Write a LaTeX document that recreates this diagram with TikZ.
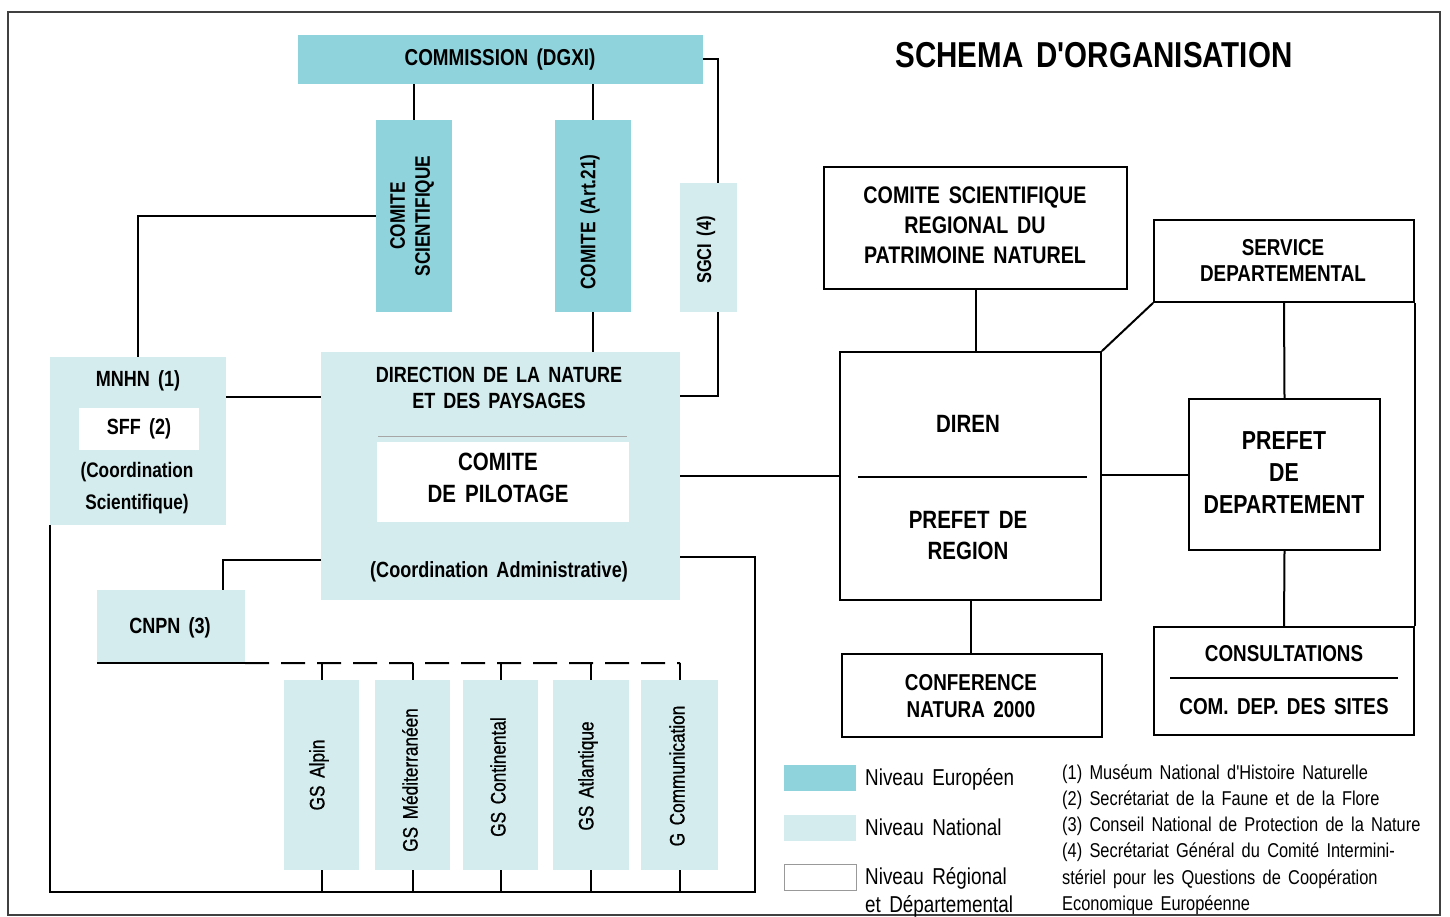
\documentclass[tikz,border=0pt]{standalone}
\usepackage{fontspec}
\setmainfont[FakeStretch=0.82,WordSpace=1.6,Ligatures=TeXOff]{Liberation Sans}
\usetikzlibrary{calc}
\definecolor{eu}{HTML}{8FD3DC}
\definecolor{nat}{HTML}{D4ECEE}
\definecolor{frm}{HTML}{404040}
\newcommand{\Fz}[2]{\fontsize{#1}{#2}\selectfont}
\tikzset{
  eubox/.style={fill=eu, draw=none, inner sep=0pt},
  natbox/.style={fill=nat, draw=none, inner sep=0pt},
  regbox/.style={fill=white, draw=black, line width=1.8pt, inner sep=0pt},
  wbox/.style={fill=white, draw=none, inner sep=0pt},
  link/.style={draw=black, line width=2pt},
  sepline/.style={draw=black, line width=1.6pt},
  lbl/.style={inner sep=0pt, align=center, font=\bfseries\Fz{23}{27}},
  vlbl/.style={inner sep=0pt, align=center, rotate=90, font=\bfseries\Fz{21}{25}},
  gslbl/.style={inner sep=0pt, align=center, rotate=90, font=\addfontfeature{FakeBold=0.8}\Fz{21}{25}},
  note/.style={inner sep=0pt, anchor=base west, font=\Fz{20}{24}},
  leg/.style={inner sep=0pt, anchor=base west, font=\Fz{23}{27}},
}
\begin{document}
\begin{tikzpicture}[x=1pt,y=-1pt]
\useasboundingbox (0,0) rectangle (1450,917);
\fill[white] (0,0) rectangle (1450,917);
\draw[frm, line width=1.4pt] (8,12) rectangle (1440,915);

% ---------- European / national level ----------
\node[eubox, minimum width=405pt, minimum height=49pt] (comm) at (500.5,59.5) {};
\node[lbl, font=\bfseries\Fz{23}{27}] (commT) at (500,60) {COMMISSION (DGXI)};

\node[eubox, minimum width=76pt, minimum height=192pt] (cs) at (414,216) {};
\node[vlbl] (csT) at (412,216) {COMITE\\SCIENTIFIQUE};

\node[eubox, minimum width=76pt, minimum height=192pt] (art) at (593,216) {};
\node[vlbl] (artT) at (590,222) {COMITE (Art.21)};

\node[natbox, minimum width=57pt, minimum height=129pt] (sgci) at (708.5,247.5) {};
\node[vlbl, font=\bfseries\Fz{20}{24}] (sgciT) at (706,250) {SGCI (4)};

\node[natbox, minimum width=176pt, minimum height=168pt] (mnhn) at (138,441) {};
\node[lbl, font=\bfseries\Fz{22}{26}] (mnhnT) at (138,381) {MNHN (1)};
\node[wbox, minimum width=120pt, minimum height=42pt] (sff) at (139,429) {};
\node[lbl, font=\bfseries\Fz{22}{26}] (sffT) at (139,429) {SFF (2)};
\node[lbl, font=\bfseries\Fz{21}{32}] (mnhnC) at (137,488) {(Coordination\\Scientifique)};

\node[natbox, minimum width=359pt, minimum height=248pt] (dnp) at (500.5,476) {};
\node[lbl, font=\bfseries\Fz{22}{26}] (dnpT) at (499,388) {DIRECTION DE LA NATURE\\ET DES PAYSAGES};
\draw[black!35, line width=1pt] (378,436) -- (627,436);
\node[wbox, minimum width=252pt, minimum height=80pt] (pil) at (503,482) {};
\node[lbl, font=\bfseries\Fz{25}{32}] (pilT) at (498,478) {COMITE\\DE PILOTAGE};
\node[lbl, font=\bfseries\Fz{22}{26}] (dnpC) at (499,572) {(Coordination Administrative)};

\node[natbox, minimum width=148pt, minimum height=73pt] (cnpn) at (171,626.5) {};
\node[lbl, font=\bfseries\Fz{22}{26}] (cnpnT) at (170,628) {CNPN (3)};

\node[natbox, minimum width=75pt, minimum height=190pt] (gs1) at (321.5,775) {};
\node[natbox, minimum width=75pt, minimum height=190pt] (gs2) at (412.5,775) {};
\node[natbox, minimum width=75pt, minimum height=190pt] (gs3) at (500.5,775) {};
\node[natbox, minimum width=76pt, minimum height=190pt] (gs4) at (591,775) {};
\node[natbox, minimum width=77pt, minimum height=190pt] (gs5) at (679.5,775) {};
\node[gslbl] (gs1T) at (319,775) {GS Alpin};
\node[gslbl] (gs2T) at (410,780) {GS Méditerranéen};
\node[gslbl] (gs3T) at (498,777) {GS Continental};
\node[gslbl] (gs4T) at (588,776) {GS Atlantique};
\node[gslbl] (gs5T) at (677,776) {G Communication};

% ---------- Regional level ----------
\node[lbl, font=\bfseries\Fz{36}{40}] (title) at (1094,55) {SCHEMA D'ORGANISATION};

\node[regbox, minimum width=303pt, minimum height=122pt] (csr) at (975.5,228) {};
\node[lbl, font=\bfseries\Fz{24}{30}] (csrT) at (975,225) {COMITE SCIENTIFIQUE\\REGIONAL DU\\PATRIMOINE NATUREL};

\node[regbox, minimum width=260pt, minimum height=82pt] (serv) at (1284,261) {};
\node[lbl, font=\bfseries\Fz{23}{26}] (servT) at (1283,260) {SERVICE\\DEPARTEMENTAL};

\node[regbox, minimum width=261pt, minimum height=248pt] (diren) at (970.5,476) {};
\node[lbl, font=\bfseries\Fz{25}{31}] (direnT) at (968,424) {DIREN};
\draw[sepline] (858,477) -- (1087,477);
\node[lbl, font=\bfseries\Fz{25}{31}] (prT) at (968,536) {PREFET DE\\REGION};

\node[regbox, minimum width=191pt, minimum height=151pt] (pdep) at (1284.5,474.5) {};
\node[lbl, font=\bfseries\Fz{26}{32}] (pdepT) at (1284,473) {PREFET\\DE\\DEPARTEMENT};

\node[regbox, minimum width=260pt, minimum height=108pt] (cons) at (1284,681) {};
\node[lbl, font=\bfseries\Fz{23}{27}] (consT) at (1284,654) {CONSULTATIONS};
\draw[sepline] (1170,678) -- (1398,678);
\node[lbl, font=\bfseries\Fz{23}{27}] (consS) at (1284,707) {COM. DEP. DES SITES};

\node[regbox, minimum width=260pt, minimum height=83pt] (conf) at (972,695.5) {};
\node[lbl, font=\bfseries\Fz{23}{27}] (confT) at (971,696) {CONFERENCE\\NATURA 2000};

% ---------- Connectors ----------
\coordinate (sgN) at (718,183);
\coordinate (sgS) at (718,312);
\coordinate (dnpR1) at (680,396);
\coordinate (dnpL1) at (321,397);
\coordinate (dnpL2) at (321,560);
\coordinate (dnpR2) at (680,557);
\coordinate (cnpnN) at (223,590);
\coordinate (bR) at (755,892);
\coordinate (dashR) at (680,663);

\draw[link] (cs.north) -- (cs.north |- comm.south);
\draw[link] (art.north) -- (art.north |- comm.south);
\draw[link] (comm.east) -| (sgN);
\draw[link] (sgS) |- (dnpR1);
\draw[link] (cs.west) -| (mnhn.north);
\draw[link] (art.south) -- (art.south |- dnp.north);
\draw[link] (mnhn.east |- dnpL1) -- (dnpL1);
\draw[link] (dnpL2) -| (cnpnN);
\draw[link] (dnp.east) -- (diren.west);
\draw[link] (dnpR2) -| (bR) -| (mnhn.south west);
\draw[line width=1.6pt] (cnpn.south west) -- (cnpn.south east);
\draw[line width=2pt, dash pattern=on 24pt off 12pt] (cnpn.south east) -- (dashR);
\foreach \g in {gs1,gs2,gs3,gs4,gs5}{
  \draw[link] (\g.north) -- (\g.north |- dashR);
  \draw[link] (\g.south) -- (\g.south |- bR);
}

\draw[link] (csr.south) -- (csr.south |- diren.north);
\draw[link] (diren.north east) -- (serv.south west);
\draw[link] (serv.south) -- (pdep.north);
\draw[link] (diren.east |- pdep.west) -- (pdep.west);
\draw[link] (serv.south east) -- (cons.north east);
\draw[link] (pdep.south) -- (cons.north);
\draw[link] (diren.south) -- (diren.south |- conf.north);

% ---------- Legend ----------
\node[eubox, minimum width=72pt, minimum height=26pt] (lgE) at (820,777.5) {};
\node[natbox, minimum width=72pt, minimum height=26pt] (lgN) at (820,827.5) {};
\node[fill=white, draw=black!40, line width=1pt, inner sep=0pt, minimum width=72pt, minimum height=26pt] (lgR) at (820,877) {};
\node[leg] (lgET) at (865,785) {Niveau Européen};
\node[leg] (lgNT) at (865,835) {Niveau National};
\node[leg] (lgRT) at (865,884) {Niveau Régional};
\node[leg] (lgRT2) at (865,912) {et Départemental};

\node[note] (n1) at (1062,779) {(1) Muséum National d'Histoire Naturelle};
\node[note] (n2) at (1062,805) {(2) Secrétariat de la Faune et de la Flore};
\node[note] (n3) at (1062,831) {(3) Conseil National de Protection de la Nature};
\node[note] (n4) at (1062,857) {(4) Secrétariat Général du Comité Intermini-};
\node[note] (n5) at (1062,884) {stériel pour les Questions de Coopération};
\node[note] (n6) at (1062,910) {Economique Européenne};
\end{tikzpicture}
\end{document}
